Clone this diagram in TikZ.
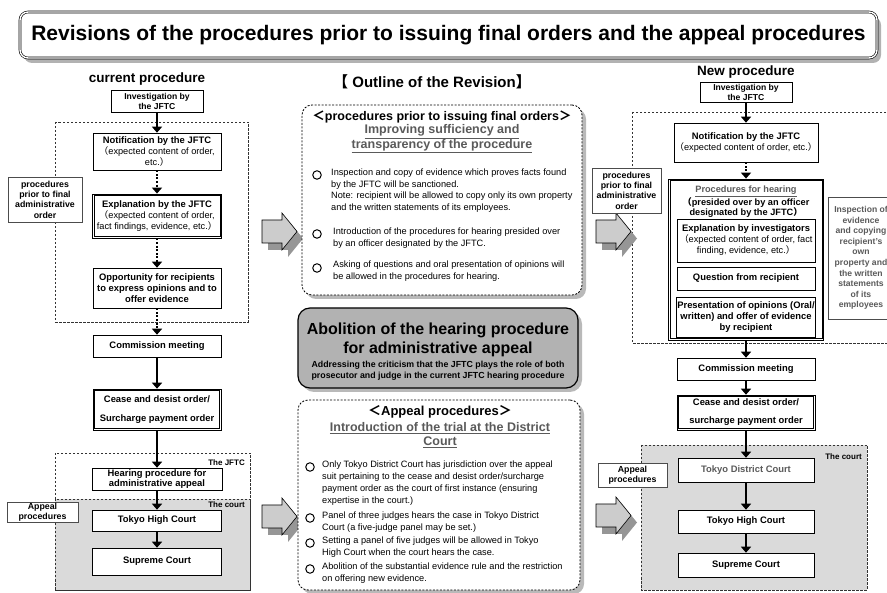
\documentclass[tikz,border=0pt]{standalone}
\usepackage{fontspec}
\setmainfont{Liberation Sans}
\newfontfamily\cjk{Noto Sans CJK JP}
\usepackage{xcolor}
\usepackage{tikz}
\definecolor{boxgray}{RGB}{178,178,178}
\definecolor{courtgray}{RGB}{218,218,218}
\definecolor{shadegray}{RGB}{150,150,150}
\definecolor{textgray}{RGB}{90,90,90}
\usetikzlibrary{shapes, arrows.meta, shadows}
\newcommand{\setfs}[2]{\fontsize{#1}{#2}\selectfont}
\newcommand{\fwl}{{\cjk （}}
\newcommand{\fwr}{{\cjk ）}}
\newcommand{\fwlt}{{\cjk ＜}}
\newcommand{\fwgt}{{\cjk ＞}}
\newcommand{\regtxt}[1]{{\mdseries\setfs{9.2}{11}#1}}

\begin{document}
\begin{tikzpicture}[
    x=1pt, y=-1pt,
    flow/.style={rectangle, draw, fill=white, line width=0.6pt, align=center, inner sep=1pt, font=\setfs{9.4}{11}\bfseries},
    tag/.style={rectangle, draw=black!70, fill=white, line width=0.5pt, align=center, inner sep=0.5pt, font=\setfs{8.8}{10.4}\bfseries},
    arrow/.style={-{Triangle[length=6pt,width=10pt]}, line width=2pt},
    dotarrow/.style={arrow, dash pattern=on 2pt off 1.6pt},
    region/.style={dash pattern=on 2.5pt off 1.5pt, line width=0.7pt, draw=black!80},
    panel/.style={rectangle, rounded corners=10pt, draw, fill=white, dash pattern=on 2pt off 1.5pt, line width=0.8pt, drop shadow={shadow xshift=4pt, shadow yshift=-4pt, fill=gray!55, opacity=1}},
    item/.style={anchor=north west, align=left, inner sep=0pt, font=\setfs{9.2}{11.8}},
    bullet/.style={circle, draw, line width=1pt, minimum size=8.5, inner sep=0pt},
    colhead/.style={font=\setfs{13.5}{15}\bfseries},
    subhead/.style={align=center, text=textgray, font=\setfs{12.5}{14.5}\bfseries},
    lbl/.style={anchor=east, inner sep=0pt, font=\setfs{8}{9}\bfseries}
]
    \useasboundingbox (0,0) rectangle (887,593);

    % Title
    \node[draw, rounded corners=8pt, double, double distance=1.4pt, line width=0.6pt, fill=white, minimum width=857, minimum height=46, drop shadow={shadow xshift=4pt, shadow yshift=-5pt, fill=gray!60, opacity=1}, font=\setfs{21}{23}\bfseries] (title) at (448.5,35) {Revisions of the procedures prior to issuing final orders and the appeal procedures};

    % Regions
    \draw[region] (55,122) rectangle (248,322);
    \draw[region] (55,453) rectangle (250,590);
    \draw[region, fill=courtgray] (55,499) rectangle (250,590);
    \draw[region] (632,112) rectangle (900,343);
    \draw[region, fill=courtgray] (641,445) rectangle (867,590);

    % Current procedure
    \node[colhead] (cur) at (147,79) {current procedure};
    \node[flow, minimum width=92, minimum height=22, font=\setfs{8.6}{10}\bfseries] (inv1) at (157,101) {Investigation by\\the JFTC};
    \node[flow, minimum width=128, minimum height=37] (not1) at (157,151.5) {Notification by the JFTC\\\regtxt{\fwl expected content of order,}\\\regtxt{etc.\fwr}};
    \node[flow, line width=0.8pt, minimum width=129, minimum height=44] (exp1) at (157,216) {Explanation by the JFTC\\\regtxt{\fwl expected content of order,}\\\regtxt{fact findings, evidence, etc.\fwr}};
    \node[flow, minimum width=128, minimum height=40] (opp1) at (157,288) {Opportunity for recipients\\to express opinions and to\\offer evidence};
    \node[flow, minimum width=128, minimum height=22] (comm1) at (157,346) {Commission meeting};
    \node[flow, minimum width=128, minimum height=41, font=\setfs{9.4}{19}\bfseries] (cease1) at (157,409.5) {Cease and desist order/\\Surcharge payment order};
    \node[flow, minimum width=130, minimum height=22, font=\setfs{9.4}{10.5}\bfseries] (hear1) at (157,479) {Hearing procedure for\\administrative appeal};
    \node[flow, minimum width=129, minimum height=21] (high1) at (157,520.5) {Tokyo High Court};
    \node[flow, minimum width=129, minimum height=27] (sup1) at (157,561.5) {Supreme Court};
    \node[tag, minimum width=74, minimum height=45] (prior1) at (45,199.5) {procedures\\prior to final\\administrative\\order};
    \node[tag, minimum width=71, minimum height=20, font=\setfs{8.8}{9.6}\bfseries] (appeal1) at (42.5,512) {Appeal\\procedures};
    \node[lbl] (jftc1) at (245,463) {The JFTC};
    \node[lbl] (court1) at (245,505) {The court};

    \draw[arrow] (inv1) -- (not1);
    \draw[dotarrow] (not1) -- (exp1);
    \draw[dotarrow] (exp1) -- (opp1);
    \draw[dotarrow] (opp1) -- (comm1);
    \draw[arrow] (comm1) -- (cease1);
    \draw[arrow] (cease1) -- (hear1);
    \draw[arrow] (hear1) -- (high1);
    \draw[arrow] (high1) -- (sup1);

    % Block arrows
    \foreach \ax/\ay in {262/213, 262/498, 596/213, 596/497} {
        \begin{scope}[shift={(\ax,\ay)}]
            \fill[shadegray] (6,14) -- (26,14) -- (26,7) -- (41,25.5) -- (26,44) -- (26,37) -- (6,37) -- cycle;
            \draw[fill=gray!40, line width=0.6pt] (0,7) -- (20,7) -- (20,0) -- (35,18.5) -- (20,37) -- (20,30) -- (0,30) -- cycle;
        \end{scope}
    }

    % Outline of the revision
    \node[colhead, font=\setfs{15}{17}\bfseries] (outline) at (432,82) {{\cjk 【} Outline of the Revision{\cjk 】}};

    \node[panel, minimum width=280, minimum height=190] (rev1) at (442,200) {};
    \node[font=\setfs{12.5}{14}\bfseries] (rev1h) at (442,117) {\fwlt procedures prior to issuing final orders\fwgt};
    \node[subhead] (rev1s) at (442,139) {\underline{Improving sufficiency and}\\\underline{transparency of the procedure}};
    \node[bullet] (c11) at (317,175) {};
    \node[item] (t11) at (331,169) {Inspection and copy of evidence which proves facts found\\by the JFTC will be sanctioned.};
    \node[item] (t12) at (331,192) {Note: recipient will be allowed to copy only its own property\\and the written statements of its employees.};
    \node[bullet] (c12) at (317,234) {};
    \node[item] (t13) at (333,228) {Introduction of the procedures for hearing presided over\\by an officer designated by the JFTC.};
    \node[bullet] (c13) at (317,268) {};
    \node[item] (t14) at (333,261) {Asking of questions and oral presentation of opinions will\\be allowed in the procedures for hearing.};

    \node[rectangle, rounded corners=12pt, draw, line width=1.2pt, fill=boxgray, minimum width=280, minimum height=80, drop shadow={shadow xshift=4pt, shadow yshift=-4pt, fill=gray!55, opacity=1}] (abol) at (438,348) {};
    \node[align=center, font=\setfs{16}{19.5}\bfseries] (abolt) at (438,340) {Abolition of the hearing procedure\\for administrative appeal};
    \node[align=center, font=\setfs{8.8}{10.8}\bfseries] (abols) at (438,371) {Addressing the criticism that the JFTC plays the role of both\\prosecutor and judge in the current JFTC hearing procedure};

    \node[panel, minimum width=282, minimum height=190] (rev2) at (439,495) {};
    \node[font=\setfs{13}{15}\bfseries] (rev2h) at (440,412) {\fwlt Appeal procedures\fwgt};
    \node[subhead, font=\setfs{12.5}{14}\bfseries] (rev2s) at (440,435) {\underline{Introduction of the trial at the District}\\\underline{Court}};
    \node[bullet] (c21) at (310,467) {};
    \node[item] (t21) at (322,461) {Only Tokyo District Court has jurisdiction over the appeal\\suit pertaining to the cease and desist order/surcharge\\payment order as the court of first instance (ensuring\\expertise in the court.)};
    \node[bullet] (c22) at (310,518) {};
    \node[item] (t22) at (322,512) {Panel of three judges hears the case in Tokyo District\\Court (a five-judge panel may be set.)};
    \node[bullet] (c23) at (310,543) {};
    \node[item] (t23) at (322,537) {Setting a panel of five judges will be allowed in Tokyo\\High Court when the court hears the case.};
    \node[bullet] (c24) at (310,569) {};
    \node[item] (t24) at (322,563) {Abolition of the substantial evidence rule and the restriction\\on offering new evidence.};

    % New procedure
    \node[colhead] (new) at (746,72) {New procedure};
    \node[flow, minimum width=92, minimum height=20, font=\setfs{8.6}{10}\bfseries] (inv3) at (746,92) {Investigation by\\the JFTC};
    \node[flow, minimum width=138, minimum height=39] (not3) at (746,142.5) {Notification by the JFTC\\\regtxt{\fwl expected content of order, etc.\fwr}};
    \node[flow, line width=0.8pt, minimum width=155, minimum height=161] (hear3) at (746,259.5) {};
    \node[align=center, font=\setfs{9.2}{10}\bfseries] (hear3t) at (746,202) {\textcolor{textgray}{\underline{Procedures for hearing}}\\\fwl presided over by an officer\\designated by the JFTC\fwr};
    \node[flow, minimum width=138, minimum height=43] (exp3) at (746,240.5) {Explanation by investigators\\\regtxt{\fwl expected content of order, fact}\\\regtxt{finding, evidence, etc.\fwr}};
    \node[flow, minimum width=138, minimum height=23] (ques3) at (746,278.5) {Question from recipient};
    \node[flow, minimum width=138, minimum height=40] (pres3) at (746,317) {Presentation of opinions (Oral/\\written) and offer of evidence\\by recipient};
    \node[tag, minimum width=69, minimum height=45] (prior3) at (626.5,190.5) {procedures\\prior to final\\administrative\\order};
    \node[tag, text=textgray, minimum width=66, minimum height=122, font=\setfs{8.6}{10.6}\bfseries] (insp3) at (861,258) {Inspection of\\evidence\\and copying\\recipient's\\own\\property and\\the written\\statements\\of its\\employees};
    \node[flow, minimum width=138, minimum height=22] (comm3) at (746,369) {Commission meeting};
    \node[flow, minimum width=138, minimum height=35, font=\setfs{9.4}{18}\bfseries] (cease3) at (746,412.5) {Cease and desist order/\\surcharge payment order};
    \node[flow, text=textgray, minimum width=136, minimum height=24] (dist3) at (746,470) {Tokyo District Court};
    \node[flow, minimum width=136, minimum height=23] (high3) at (746,521.5) {Tokyo High Court};
    \node[flow, minimum width=136, minimum height=24] (sup3) at (746,565) {Supreme Court};
    \node[tag, minimum width=69, minimum height=24, font=\setfs{8.8}{9.6}\bfseries] (appeal3) at (632.5,475) {Appeal\\procedures};
    \node[lbl] (court3) at (862,457) {The court};

    % Double frames
    \foreach \n in {exp1, cease1, cease3, hear3}
        \draw[line width=0.5pt] ([xshift=1.8pt, yshift=-1.8pt]\n.north west) rectangle ([xshift=-1.8pt, yshift=1.8pt]\n.south east);

    \draw[arrow] (inv3) -- (not3);
    \draw[dotarrow] (not3) -- (hear3);
    \draw[arrow] (hear3) -- (comm3);
    \draw[arrow] (comm3) -- (cease3);
    \draw[arrow] (cease3) -- (dist3);
    \draw[arrow] (dist3) -- (high3);
    \draw[arrow] (high3) -- (sup3);

\end{tikzpicture}
\end{document}
